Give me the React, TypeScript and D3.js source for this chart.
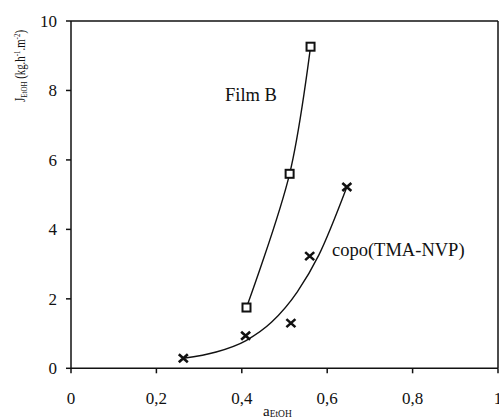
import React from "react";
import * as d3 from "d3";

const xTicks = [0, 0.2, 0.4, 0.6, 0.8, 1];
const xTickLabels = ["0", "0,2", "0,4", "0,6", "0,8", "1"];
const yTicks = [0, 2, 4, 6, 8, 10];
const yTickLabels = ["0", "2", "4", "6", "8", "10"];

const filmBX = [0.411, 0.512, 0.561];
const filmBY = [1.75, 5.6, 9.26];

const copoX = [0.263, 0.409, 0.515, 0.559, 0.646];
const copoY = [0.29, 0.94, 1.3, 3.23, 5.22];

// trend curve
const copoFitX = [0.263, 0.34, 0.41, 0.47, 0.53, 0.58, 0.646];
const copoFitY = [0.29, 0.47, 0.8, 1.33, 2.2, 3.25, 5.22];

const W = 499;
const H = 417;
const M = { left: 71, right: 498, top: 21, bottom: 368.3 };
const FONT = "Liberation Serif, Times New Roman, Times, DejaVu Serif, serif";

export default function App() {
  const x = d3.scaleLinear().domain([0, 1]).range([M.left, M.right]);
  const y = d3.scaleLinear().domain([0, 10]).range([M.bottom, M.top]);

  const filmBPts: [number, number][] = filmBX.map((v, i) => [x(v), y(filmBY[i])]);
  const copoPts: [number, number][] = copoX.map((v, i) => [x(v), y(copoY[i])]);
  const fitPts: [number, number][] = copoFitX.map((v, i) => [x(v), y(copoFitY[i])]);

  const lineCR = d3.line().curve(d3.curveCatmullRom.alpha(0.5));
  const lineFit = d3.line().curve(d3.curveMonotoneX);

  return (
    <svg
      width={W}
      height={H}
      style={{ position: "absolute", left: 0, top: 0, background: "#fff", fontFamily: FONT }}
    >
      <g stroke="#111" strokeWidth={1.5} fill="none">
        <line x1={M.left} y1={M.top} x2={M.left} y2={M.bottom} />
        <line x1={M.left} y1={M.bottom} x2={M.right} y2={M.bottom} />
        <line x1={M.left} y1={M.top} x2={M.right} y2={M.top} />
        <line x1={M.right} y1={M.top} x2={M.right} y2={M.bottom} />
        {yTicks.map((t) => (
          <line key={"yt" + t} x1={M.left - 5} x2={M.left} y1={y(t)} y2={y(t)} />
        ))}
        {xTicks.map((t) => (
          <line key={"xt" + t} x1={x(t)} x2={x(t)} y1={M.bottom} y2={M.bottom + 5} />
        ))}
      </g>
      <g style={{ fontFamily: FONT }} fontSize={17} fill="#111">
        {yTicks.map((t, i) => (
          <text key={"yl" + t} x={57} y={y(t)} dy="0.34em" textAnchor="end">
            {yTickLabels[i]}
          </text>
        ))}
        {xTicks.map((t, i) => (
          <text key={"xl" + t} x={x(t)} y={404} textAnchor="middle">
            {xTickLabels[i]}
          </text>
        ))}
      </g>

      {/* axis titles */}
      <text x={263} y={416} style={{ fontFamily: FONT }} fontSize={15} fill="#111">
        a<tspan fontSize={9.5} dy={1}>EtOH</tspan>
      </text>
      <text
        transform="translate(25,102) rotate(-90)"
        style={{ fontFamily: FONT }}
        fontSize={14}
        fill="#111"
        textLength={72}
        lengthAdjust="spacingAndGlyphs"
      >
        J<tspan fontSize={9} dy={2}>EtOH</tspan>
        <tspan dy={-2}> (kg.h</tspan>
        <tspan fontSize={9} dy={-5}>-1</tspan>
        <tspan dy={5}>.m</tspan>
        <tspan fontSize={9} dy={-5}>-2</tspan>
        <tspan dy={5}>)</tspan>
      </text>

      {/* curves */}
      <path d={lineCR(filmBPts) || ""} fill="none" stroke="#111" strokeWidth={1.4} />
      <path d={lineFit(fitPts) || ""} fill="none" stroke="#111" strokeWidth={1.4} />

      {/* markers */}
      {filmBPts.map(([px, py], i) => (
        <rect
          key={"sq" + i}
          x={px - 4}
          y={py - 4}
          width={8}
          height={8}
          fill="#fff"
          stroke="#111"
          strokeWidth={2}
        />
      ))}
      {copoPts.map(([px, py], i) => (
        <path
          key={"cx" + i}
          d={`M${px - 4.5},${py - 4}L${px + 4.5},${py + 4}M${px + 4.5},${py - 4}L${px - 4.5},${py + 4}`}
          stroke="#111"
          strokeWidth={2.6}
          fill="none"
        />
      ))}

      {/* labels */}
      <text x={225} y={101} style={{ fontFamily: FONT }} fontSize={18.5} fill="#111">
        Film B
      </text>
      <text x={332} y={256} style={{ fontFamily: FONT }} fontSize={18.5} fill="#111">
        copo(TMA-NVP)
      </text>
    </svg>
  );
}
